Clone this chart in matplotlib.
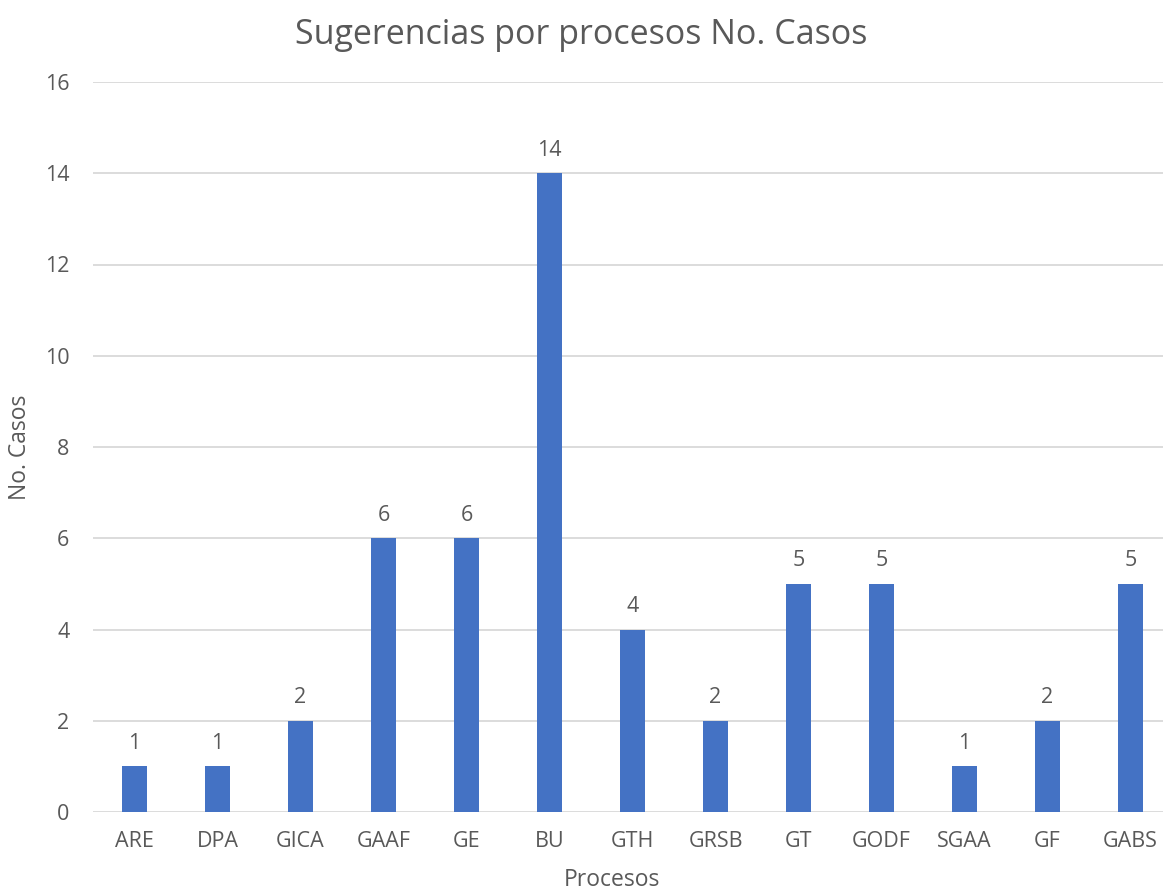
import matplotlib
matplotlib.use("Agg")
import matplotlib.pyplot as plt
import numpy as np

procesos = ["ARE", "DPA", "GICA", "GAAF", "GE", "BU", "GTH", "GRSB",
            "GT", "GODF", "SGAA", "GF", "GABS"]
casos = [1, 1, 2, 6, 6, 14, 4, 2, 5, 5, 1, 2, 5]
y_ticks = [0, 2, 4, 6, 8, 10, 12, 14, 16]

text_color = "#595959"
bar_color = "#4472C4"
grid_color = "#D9D9D9"

plt.rcParams["font.family"] = ["Open Sans", "DejaVu Sans"]

W, H = 1163, 894
fig = plt.figure(figsize=(W / 100, H / 100), dpi=100)
ax = fig.add_axes([93 / W, 82 / H, 1079 / W, 730 / H])

x = np.arange(len(procesos))
ax.bar(x, casos, width=0.31, color=bar_color, zorder=3)
for xi, v in zip(x, casos):
    ax.annotate(str(v), (xi, v), xytext=(0, 9), textcoords="offset points",
                ha="center", va="bottom", fontsize=15.5, color=text_color)

ax.set_xlim(-0.5, len(procesos) - 0.5)
ax.set_ylim(0, 16)
ax.set_yticks(y_ticks)
ax.set_xticks(x)
ax.set_xticklabels(procesos)
ax.yaxis.grid(True, color=grid_color, linewidth=1.3, zorder=0)
for s in ax.spines.values():
    s.set_visible(False)
ax.tick_params(axis="both", length=0, labelsize=15.5, labelcolor=text_color)
ax.tick_params(axis="x", pad=14)
ax.tick_params(axis="y", pad=17)

fig.text(581 / W, 1 - 35 / H, "Sugerencias por procesos No. Casos",
         ha="center", va="center", fontsize=24.5, color=text_color)
fig.text(612 / W, 1 - 880 / H, "Procesos", ha="center", va="center",
         fontsize=16.5, color=text_color)
fig.text(20 / W, 1 - 447 / H, "No. Casos", ha="center", va="center",
         rotation=90, fontsize=16.5, color=text_color)

fig.savefig("out.png", dpi=100)
